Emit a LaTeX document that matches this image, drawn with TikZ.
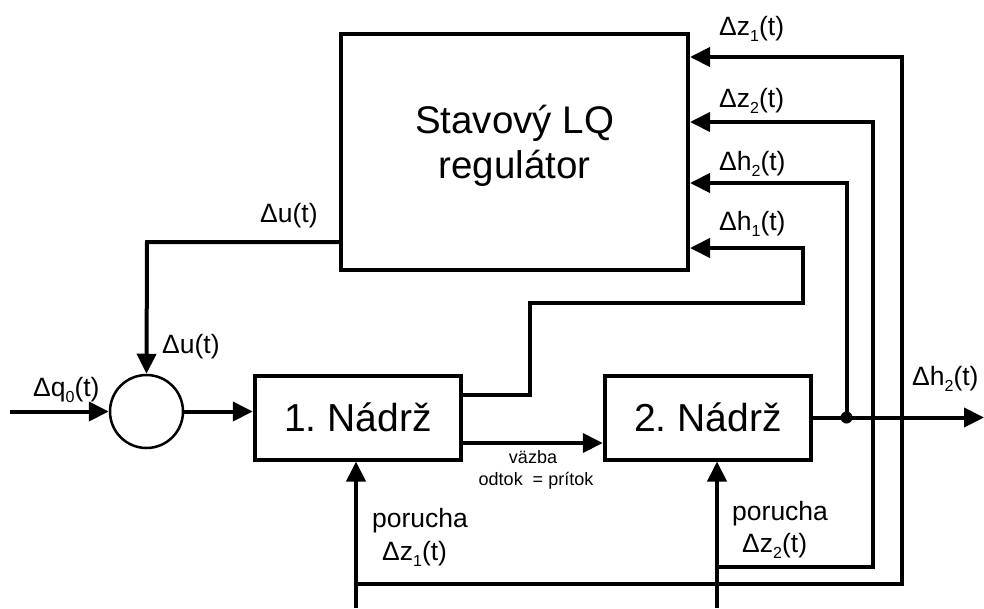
\documentclass[tikz,border=0pt]{standalone}
\usepackage{fontspec}
\setmainfont{Liberation Sans}
\usetikzlibrary{arrows.meta}
\frenchspacing
% lowered small index used in signal names
\newcommand\idx[1]{\raisebox{-6pt}{\fontsize{16}{16}\selectfont #1}}
\begin{document}
\begin{tikzpicture}[x=1pt,y=-1pt,
  wire/.style={line width=4pt},
  arr/.style={wire,-{Triangle[length=20pt,width=19pt]}},
  block/.style={draw,line width=4pt,inner sep=0pt},
  tankbox/.style={block,minimum width=206.5pt,minimum height=84pt,font=\fontsize{39}{39}\selectfont},
  sig/.style={inner sep=0pt,anchor=base west,font=\fontsize{26.5}{26.5}\selectfont},
  small/.style={inner sep=0pt,anchor=base,font=\fontsize{18}{18}\selectfont}]
\useasboundingbox (0,0) rectangle (984,608);

% blocks
\node[block,minimum width=347pt,minimum height=236.5pt] (reg) at (514.5,151.75) {};
% the base anchor of this two-line label sits on its second line
\node[inner sep=0pt,align=center,anchor=base,font=\fontsize{38.5}{38}\selectfont]
      (regtxt) at (514.5,178) {Stavový LQ\\[7pt]regulátor};
\node[tankbox] (t1) at (358,417.5) {1. Nádrž};
\node[tankbox] (t2) at (708,417.5) {2. Nádrž};
\node[draw,circle,line width=2.5pt,minimum size=73pt,inner sep=0pt] (sum) at (146.5,411.5) {};

% reference points of the wiring
\coordinate (qin) at (10,411.5);
\coordinate (ucorner) at (147,242);
\coordinate (ylink) at (0,443);
\coordinate (h1out) at (0,395);
\coordinate (h1a) at (530,395);
\coordinate (h1b) at (530,303);
\coordinate (h1c) at (803,303);
\coordinate (h1d) at (803,248);
\coordinate (h2c) at (846.5,183);
\coordinate (z2c) at (873,122);
\coordinate (z1c) at (902,57);
\coordinate (hout) at (984,417.5);
\coordinate (z1bot) at (356,608);
\coordinate (z1tap) at (356,584);
\coordinate (z1r) at (902,584);
\coordinate (z2bot) at (717,608);
\coordinate (z2tap) at (717,567);
\coordinate (z2r) at (873,567);
\coordinate (jn) at (846.5,417.5);

% main signal path
\draw[arr] (qin) -- (sum.west);
\draw[arr] (sum.east) -- (sum.east -| t1.west);
\draw[arr] (ucorner -| reg.west) -- (ucorner) -- (sum.north);
\draw[arr] (ylink -| t1.east) -- (ylink -| t2.west);
\draw[arr] (t2.east) -- (hout);
\fill (jn) circle (6pt);

% feedback of measured states and disturbances
\draw[arr] (h1out -| t1.east) -- (h1a) -- (h1b) -- (h1c) -- (h1d) -- (h1d -| reg.east);
\draw[arr] (jn) -- (h2c) -- (h2c -| reg.east);
\draw[arr] (z2tap) -- (z2r) -- (z2c) -- (z2c -| reg.east);
\draw[arr] (z1tap) -- (z1r) -- (z1c) -- (z1c -| reg.east);

% disturbance inputs
\draw[arr] (z1bot) -- (z1bot |- t1.south);
\draw[arr] (z2bot) -- (z2bot |- t2.south);

% signal names
\node[sig] (lz1) at (719,35) {Δz\idx{1}(t)};
\node[sig] (lz2) at (719,107) {Δz\idx{2}(t)};
\node[sig] (lh2) at (719,170) {Δh\idx{2}(t)};
\node[sig] (lh1) at (719,230) {Δh\idx{1}(t)};
\node[sig] (lu) at (260,222) {Δu(t)};
\node[sig] (lu2) at (162,353) {Δu(t)};
\node[sig] (lq) at (33,396) {Δq\idx{0}(t)};
\node[sig] (lout) at (912,385) {Δh\idx{2}(t)};
\node[sig] (p1) at (372,527) {porucha};
\node[sig] (lz1b) at (382,560) {Δz\idx{1}(t)};
\node[sig] (p2) at (732,520) {porucha};
\node[sig] (lz2b) at (742,552) {Δz\idx{2}(t)};
\node[small] (vz) at (533,463) {väzba};
\node[small] (ot) at (536,485) {odtok\ \ = prítok};
\end{tikzpicture}
\end{document}
